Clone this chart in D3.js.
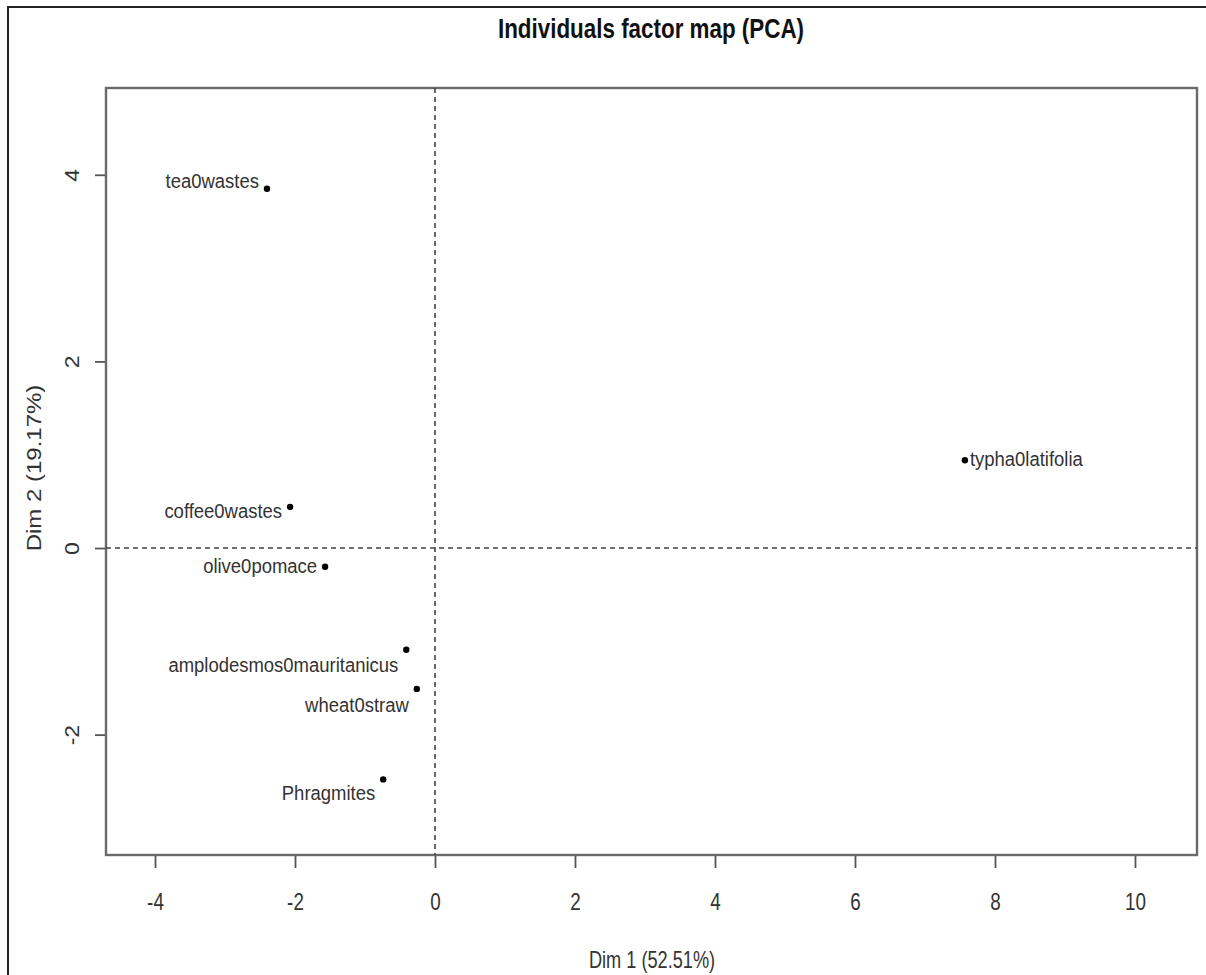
<!DOCTYPE html>
<html>
<head>
<meta charset="utf-8">
<script src="https://cdn.jsdelivr.net/npm/d3@7"></script>
<style>
  html, body { margin: 0; padding: 0; background: #fff; }
  svg { display: block; }
  text { font-family: "Liberation Sans", Arial, sans-serif; }
</style>
</head>
<body>
<div id="chart"></div>
<script>
// PCA individuals factor map — Dim 1 vs Dim 2
// the source image is squeezed sideways, so horizontal text gets a scaleX

const names = ["tea0wastes", "coffee0wastes", "olive0pomace", "amplodesmos0mauritanicus",
               "wheat0straw", "Phragmites", "typha0latifolia"];
const dim1 = [-2.40, -2.07, -1.57, -0.41, -0.26, -0.74, 7.57];
const dim2 = [3.85, 0.44, -0.20, -1.09, -1.51, -2.48, 0.94];
// label placement: side of the dot, and how far the baseline drops below it
const labelSide = ["left", "left", "left", "left", "left", "left", "right"];
const labelDrop = [-1, 11, 6, 22, 23, 21, 6];
const xTicks = [-4, -2, 0, 2, 4, 6, 8, 10];
const yTicks = [-2, 0, 2, 4];

const W = 1206, H = 975;
const box = { left: 106, right: 1197, top: 88, bottom: 855 };
const squeeze = 0.82;
const ink = "#333";

const svg = d3.select("#chart").append("svg").attr("width", W).attr("height", H);

// outer frame (runs off the right / bottom edge)
svg.append("rect").attr("x", 8).attr("y", 7).attr("width", W + 10).attr("height", H + 10)
  .attr("fill", "none").attr("stroke", "#222").attr("stroke-width", 2);

const x = d3.scaleLinear().domain([-4.7, 10.886]).range([box.left, box.right]);
const y = d3.scaleLinear().domain([-3.29, 4.93]).range([box.bottom, box.top]);

// axes
const gX = svg.append("g").attr("transform", `translate(0,${box.bottom})`)
  .call(d3.axisBottom(x).tickValues(xTicks).tickSize(13).tickFormat(d => String(d)));
const gY = svg.append("g").attr("transform", `translate(${box.left},0)`)
  .call(d3.axisLeft(y).tickValues(yTicks).tickSize(11).tickFormat(d => String(d)));
[gX, gY].forEach(g => {
  g.select(".domain").remove();
  g.selectAll(".tick line").attr("stroke", "#555").attr("stroke-width", 1.8);
  g.selectAll(".tick text").attr("fill", ink).attr("font-size", 23)
    .attr("font-family", "Liberation Sans, Arial, sans-serif");
});
gX.selectAll(".tick text")
  .attr("y", null).attr("dy", null)
  .attr("transform", `translate(0,55) scale(${squeeze},1)`);
gY.selectAll(".tick text")
  .attr("x", null).attr("dy", null).attr("text-anchor", "middle")
  .attr("transform", "translate(-27,0) rotate(-90) scale(1,0.85)");

// plot box
svg.append("rect").attr("x", box.left).attr("y", box.top)
  .attr("width", box.right - box.left).attr("height", box.bottom - box.top)
  .attr("fill", "none").attr("stroke", "#6a6a6a").attr("stroke-width", 2.4);

// zero lines
svg.append("line").attr("x1", x(0)).attr("x2", x(0)).attr("y1", box.top).attr("y2", box.bottom)
  .attr("stroke", "#444").attr("stroke-width", 1.6).attr("stroke-dasharray", "5 4");
svg.append("line").attr("x1", box.left).attr("x2", box.right).attr("y1", y(0)).attr("y2", y(0))
  .attr("stroke", "#444").attr("stroke-width", 1.6).attr("stroke-dasharray", "5 4");

// points
const pts = names.map((n, i) => ({
  name: n, d1: dim1[i], d2: dim2[i], side: labelSide[i], drop: labelDrop[i]
}));
svg.append("g").selectAll("circle").data(pts).join("circle")
  .attr("cx", d => x(d.d1)).attr("cy", d => y(d.d2)).attr("r", 3.2).attr("fill", "#000");

svg.append("g").selectAll("text").data(pts).join("text")
  .attr("transform", d => {
    const tx = x(d.d1) + (d.side === "left" ? -8 : 5);
    return `translate(${tx},${y(d.d2) + d.drop}) scale(0.88,1)`;
  })
  .attr("text-anchor", d => d.side === "left" ? "end" : "start")
  .attr("font-size", 21).attr("fill", ink)
  .text(d => d.name);

// titles
svg.append("text").attr("transform", `translate(651,38) scale(0.83,1)`)
  .attr("text-anchor", "middle").attr("font-size", 27).attr("font-weight", "bold").attr("fill", "#111")
  .text("Individuals factor map (PCA)");
svg.append("text").attr("transform", `translate(652,968) scale(0.79,1)`)
  .attr("text-anchor", "middle").attr("font-size", 23).attr("fill", ink)
  .text("Dim 1 (52.51%)");
svg.append("text")
  .attr("transform", `translate(41,468) rotate(-90) scale(1,0.85)`)
  .attr("text-anchor", "middle").attr("font-size", 24).attr("fill", ink)
  .text("Dim 2 (19.17%)");
</script>
</body>
</html>
